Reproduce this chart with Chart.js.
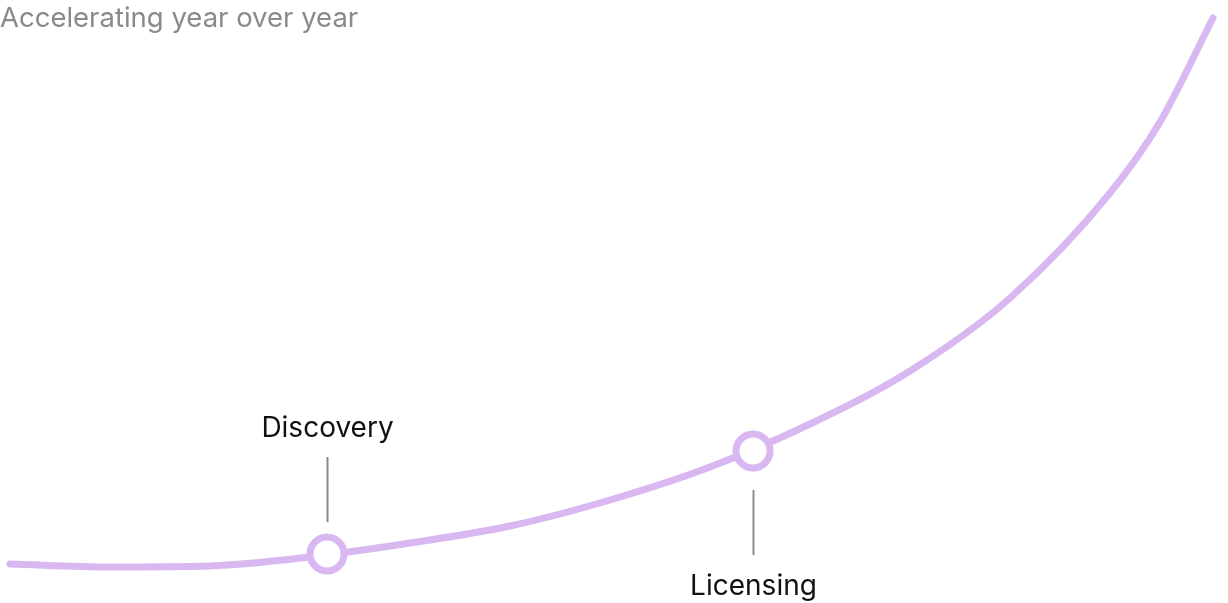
<!DOCTYPE html>
<html>
<head>
<meta charset="utf-8">
<script src="https://cdn.jsdelivr.net/npm/chart.js@4.4.1/dist/chart.umd.min.js"></script>
<style>
  html,body{margin:0;padding:0;background:#fff;}
  #wrap{width:1228px;height:603px;position:relative;}
</style>
</head>
<body>
<div id="wrap"><canvas id="growth"></canvas></div>
<script>
// curve (x = time, y = growth)
const curveX = [10, 110, 210, 310, 410, 510, 610, 710, 810, 910, 1010, 1110, 1160, 1213];
const curveY = [39, 36, 37, 46, 60, 77, 103, 136, 179, 232, 305, 410, 481, 585];

// milestones on the curve
const milestoneNames = ['Discovery', 'Licensing'];
const milestoneX = [327, 753];
const milestoneY = [49, 152];
const milestoneSide = ['above', 'below'];

const titleText = 'Accelerating year over year';

const PURPLE = '#d9b8f2';

const annotate = {
  id: 'annotate',
  afterDatasetsDraw(chart){
    const {ctx, scales:{x, y}} = chart;
    ctx.save();
    ctx.font = '27.5px Inter';
    ctx.fillStyle = '#8a8a8a';
    ctx.textAlign = 'left';
    ctx.textBaseline = 'alphabetic';
    ctx.fillText(titleText, 0, 27);

    ctx.font = '28px Inter';
    milestoneNames.forEach((name, i)=>{
      const px = Math.round(x.getPixelForValue(milestoneX[i])) + 0.5;
      const py = y.getPixelForValue(milestoneY[i]);
      ctx.strokeStyle = '#8a8a8a';
      ctx.lineWidth = 2;
      ctx.beginPath();
      if(milestoneSide[i]==='above'){
        ctx.moveTo(px, py-97); ctx.lineTo(px, py-32);
      }else{
        ctx.moveTo(px, py+39); ctx.lineTo(px, py+104);
      }
      ctx.stroke();
      ctx.fillStyle = '#111';
      ctx.textAlign = 'center';
      ctx.fillText(name, px, milestoneSide[i]==='above' ? py-117 : py+144);
    });
    ctx.restore();
  }
};

new Chart(document.getElementById('growth'), {
  type: 'line',
  data: {
    datasets: [
      {
        data: milestoneX.map((v,i)=>({x:v, y:milestoneY[i]})),
        showLine: false,
        pointRadius: 17,
        pointHoverRadius: 17,
        pointBorderWidth: 7,
        pointBorderColor: PURPLE,
        pointBackgroundColor: '#fff',
        clip: false,
        order: 0
      },
      {
        data: curveX.map((v,i)=>({x:v, y:curveY[i]})),
        borderColor: PURPLE,
        borderWidth: 7,
        borderCapStyle: 'round',
        cubicInterpolationMode: 'monotone',
        pointRadius: 0,
        fill: false,
        clip: false,
        order: 1
      }
    ]
  },
  options: {
    responsive: true,
    maintainAspectRatio: false,
    animation: false,
    layout: { padding: 0, autoPadding: false },
    plugins: { legend: {display:false}, tooltip: {enabled:false}, title: {display:false} },
    scales: {
      x: { type:'linear', min:0, max:1228, display:false },
      y: { min:0, max:603, display:false }
    }
  },
  plugins: [annotate]
});
</script>
</body>
</html>
